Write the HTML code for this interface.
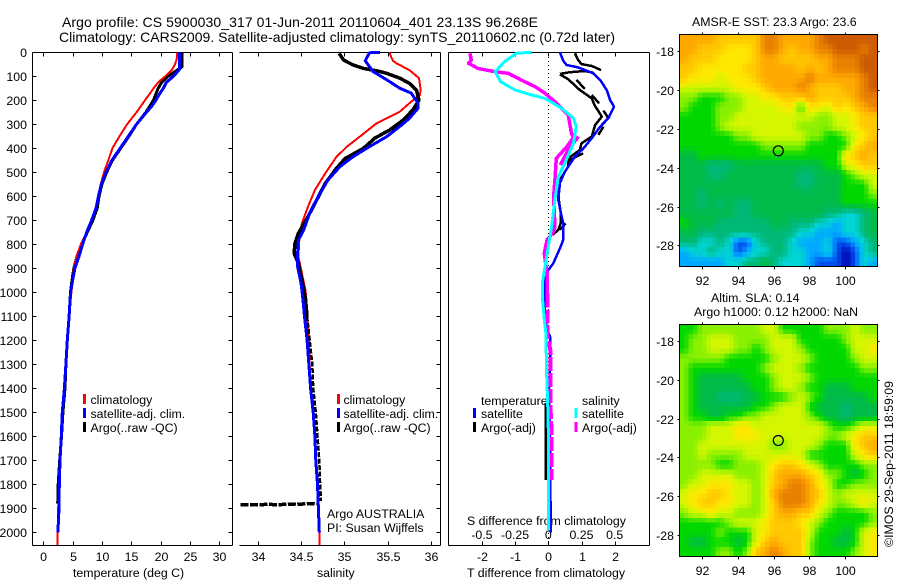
<!DOCTYPE html>
<html><head><meta charset="utf-8"><title>Argo profile</title>
<style>
html,body{margin:0;padding:0;background:#fff}
svg{display:block}
text{font-family:"Liberation Sans",sans-serif;font-size:12.35px;fill:#000}
.c{shape-rendering:crispEdges}
</style></head><body>
<svg id="fig" width="900" height="580" viewBox="0 0 900 580" xmlns="http://www.w3.org/2000/svg">
<text x="62" y="27" style="font-size:14px" textLength="476">Argo profile: CS 5900030_317 01-Jun-2011 20110604_401 23.13S 96.268E</text>
<text x="59" y="42" style="font-size:14px" textLength="556">Climatology: CARS2009. Satellite-adjusted climatology: synTS_20110602.nc (0.72d later)</text>
<text x="73" y="577">temperature (deg C)</text>
<text x="317" y="577">salinity</text>
<text x="467" y="577">T difference from climatology</text>
<text x="467" y="525">S difference from climatology</text>
<text x="327" y="518">Argo AUSTRALIA</text>
<text x="327" y="532">PI: Susan Wijffels</text>
<text x="692" y="26">AMSR-E SST: 23.3 Argo: 23.6</text>
<text x="711" y="302">Altim. SLA: 0.14</text>
<text x="694" y="316">Argo h1000: 0.12 h2000: NaN</text>
<text transform="translate(893,547) rotate(-90)">©IMOS 29-Sep-2011 18:59:09</text>
<text x="481" y="405">temperature</text>
<text x="582" y="405">salinity</text>
</svg>
<script>
// ---- chart data ----
const depthTicks=[0,100,200,300,400,500,600,700,800,900,1000,1100,1200,1300,1400,1500,1600,1700,1800,1900,2000];
const tempTicks=[0,5,10,15,20,25,30];
const salTicks=[34,34.5,35,35.5,36];
const diffTTicks=[-2,-1,0,1,2];
const diffSTicks=[-0.5,-0.25,0,0.25,0.5];
const diffSLabels=['-0.5','-0.25','0','0.25','0.5'];
const lonTicks=[92,94,96,98,100];
const latTicks=[18,20,22,24,26,28];

const climTempDepth=[0,25,50,75,100,125,150,175,200,250,300,350,400,450,500,550,600,650,700,750,800,850,900,950,1000,1100,1200,1300,1400,1500,1600,1700,1800,1900,2000,2053];
const climTemp=[22.8,22.8,22.5,21.9,20.8,19.6,18.8,18.1,17.35,15.9,14.3,13,11.8,11.1,10.35,9.8,9.5,8.9,8.25,7.4,6.4,5.7,5.2,5,4.8,4.4,4.1,3.85,3.6,3.25,3.05,2.85,2.7,2.55,2.45,2.4];
const satTempDepth=[0,25,50,73,100,125,150,175,200,225,250,300,350,400,450,500,550,600,650,700,750,800,850,900,950,1000,1100,1200,1300,1400,1500,1600,1700,1800,1900,2000];
const satTemp=[23.2,23.2,23.2,23.2,22.2,21,20.5,19.8,19.2,18.5,17.6,15.9,14.5,13.1,11.7,10.7,9.9,9.4,9,8.25,7.4,6.7,6.1,5.4,5,4.66,4.4,4.1,3.85,3.6,3.25,3.07,2.85,2.73,2.68,2.5];
const argoTempDepth=[0,60,75,100,125,150,175,200,250,300,350,400,450,500,550,600,650,700,750,800,850,900,950,1000,1100,1200,1300,1400,1500,1600,1700,1800,1880];
const argoTemp=[23.7,23.7,22.8,21.3,20.2,19.6,19.2,18.8,17.5,15.9,14.6,13.2,11.8,10.8,10,9.5,9.2,8.45,7.5,6.5,5.75,5.2,4.9,4.65,4.4,4.1,3.85,3.7,3.35,3.1,2.8,2.55,2.45];

const climSalDepth=[0,20,35,46,74,108,157,178,212,247,296,351,393,435,504,574,643,713,782,851,921,990,1025,1100,1200,1300,1400,1500,1600,1700,1800,1900,2000,2053];
const climSal=[35.52,35.54,35.56,35.6,35.75,35.86,35.88,35.87,35.75,35.64,35.37,35.18,35.03,34.91,34.78,34.66,34.58,34.51,34.48,34.47,34.51,34.55,34.56,34.57,34.59,34.6,34.61,34.64,34.66,34.67,34.69,34.7,34.71,34.715];
const satSalDepth=[0,2,35,80,115,150,170,212,233,275,303,351,393,435,476,532,600,670,740,782,838,893,963,1025,1100,1200,1300,1400,1500,1600,1700,1800,1900,2000];
const satSal=[35.41,35.29,35.24,35.33,35.49,35.64,35.77,35.85,35.85,35.75,35.66,35.49,35.29,35.1,34.95,34.81,34.7,34.6,34.53,34.47,34.46,34.46,34.5,34.52,34.54,34.57,34.59,34.61,34.64,34.66,34.67,34.69,34.7,34.71];
const argoSalDepth=[4,32,53,67,80,88,108,129,157,199,240,282,324,358,400,442,483,546,615,685,754,796,838,879,949,1025,1100];
const argoSal=[34.94,34.99,35.1,35.22,35.41,35.49,35.64,35.75,35.83,35.86,35.79,35.68,35.52,35.35,35.22,35.01,34.91,34.78,34.68,34.58,34.47,34.43,34.42,34.47,34.51,34.55,34.57];
const argoSalDeepDepth=[1100,1200,1300,1400,1500,1600,1700,1800,1870];
const argoSalDeep=[34.57,34.6,34.63,34.64,34.67,34.69,34.71,34.72,34.73];
const argoSalBadDepth=[1884,1886,1884,1885,1883,1885,1884,1882,1884,1882,1880,1881];
const argoSalBad=[33.8,33.88,33.96,34.04,34.12,34.2,34.28,34.36,34.44,34.52,34.6,34.68];

const satDiffTDepth=[0,35,53,63,88,115,157,199,226,275,310,358,400,435,497,545,615,664,713,782,817,879,907,950,1050,1150,1185,1300,1400,1500,1600,1700,1800,1900,2000];
const satDiffT=[0.35,0.45,0.55,0.9,1.36,1.56,1.76,1.86,1.98,1.81,1.56,1.31,1.06,0.8,0.5,0.35,0.3,0.37,0.45,0.45,0.35,0.15,0,-0.1,-0.12,-0.05,0.05,0.05,0.02,0.03,0.05,0.05,0.06,0.07,0.07];
const argoDiffTDepth=[4,32,49,57,74,null,90,83,78,85,null,92,112,157,192,219,268,303,351,379,407,442,476,532,601,664,713,740,761,null,817,893,null,115,153,null,178,213,null,243,275,null,310,344,null,421,442,456,null,713,740,null,950,1100,null,1461,1782];
const argoDiffT=[0.8,0.9,1,1.31,1.59,null,0.35,0.65,1.1,1.36,null,0.35,0.6,0.95,1.31,1.39,1.61,1.41,1.31,1,0.95,0.6,0.6,0.35,0.3,0.37,0.37,0.3,0.12,null,-0.05,-0.07,null,0.85,1.1,null,1.31,1.53,null,1.66,1.81,null,1.66,1.51,null,1.05,0.75,0.55,null,0.52,0.35,null,-0.13,-0.13,null,-0.08,-0.08];
const satDiffSDepth=[0,4,39,81,122,157,178,192,233,275,310,379,462,518,615,726,810,893,963,1032,1116,1171,1338,1449,1643,1991];
const satDiffS=[-0.125,-0.24,-0.33,-0.4,-0.36,-0.25,-0.125,-0.025,0.1,0.19,0.21,0.19,0.125,0.075,0.05,0.025,0,-0.025,-0.045,-0.043,-0.03,-0.018,-0.013,-0.005,0.003,0.003];
const argoDiffSDepth=[4,32,46,67,76,81,88,122,143,171,206,261,338,354,393,442,532,601,726,747,782,838,921,1004,null,351,407,469];
const argoDiffS=[-0.59,-0.58,-0.6,-0.53,-0.45,-0.4,-0.3,-0.18,-0.1,-0.025,0.05,0.15,0.175,0.19,0.14,0.06,0.05,0.04,0.05,0.04,-0.01,-0.03,-0.01,-0.01,null,0.226,0.15,0.09];
const argoDiffSDeepDepth=[1004,1185,1240,1330,1470,1580,1782];
const argoDiffSDeep=[-0.005,-0.005,0.015,0.015,0.016,0.025,0.025];

// map cell values: 0 = coldest/lowest ... 13 = warmest/highest colour level
const sstValues=[
[11,11,11,11,10,10,10,10,10,12,12,11,11,11,11,12,13,13,13,13,13,13],
[11,11,10,10,10,9,9,9,10,12,12,11,10,11,11,12,12,13,13,13,12,13],
[11,10,10,10,9,9,9,9,10,11,11,10,10,10,10,11,11,12,12,12,13,13],
[10,10,9,9,9,9,9,10,10,11,11,11,11,10,11,10,11,12,12,12,13,13],
[10,9,9,9,8,9,9,9,10,11,11,11,11,11,12,11,11,11,11,11,12,13],
[8,8,8,8,8,8,9,9,9,10,11,11,11,12,11,10,10,10,11,11,12,13],
[7,7,6,6,6,7,7,8,8,9,9,10,10,10,11,10,10,10,10,11,12,12],
[7,6,6,6,7,7,7,8,8,8,8,9,9,6,9,9,8,10,9,10,11,12],
[6,6,6,6,7,7,8,8,8,8,8,8,8,8,8,7,7,8,8,9,10,10],
[6,6,6,6,7,8,8,8,8,8,8,8,8,7,7,7,7,8,8,9,10,10],
[6,6,6,6,6,6,7,7,8,8,8,8,8,8,7,7,6,6,7,8,9,10],
[6,6,6,6,6,6,6,6,6,7,7,7,7,7,6,6,6,6,6,9,10,11],
[5,5,6,6,6,6,6,6,6,6,6,6,6,6,6,6,6,6,9,10,11,10],
[5,5,5,4,4,4,5,5,5,5,5,5,5,5,5,5,6,6,8,9,10,10],
[5,5,5,4,4,5,5,5,5,5,5,5,5,4,4,5,5,5,6,7,8,8],
[5,5,5,5,5,5,5,5,5,5,5,5,5,4,4,5,5,5,6,6,6,8],
[5,5,4,5,5,5,5,5,5,5,5,5,5,5,5,5,5,5,6,6,6,7],
[5,5,4,5,4,5,4,4,5,5,5,5,5,5,5,5,5,5,6,6,6,6],
[5,5,5,5,5,5,4,4,5,5,5,5,5,5,5,5,4,4,3,3,4,5],
[6,5,5,5,4,4,4,4,4,4,5,5,4,4,4,3,3,2,3,3,4,5],
[5,5,4,4,4,4,4,4,4,4,4,4,4,3,3,2,2,2,3,3,4,5],
[4,4,3,3,4,3,1,1,3,4,4,4,3,2,2,2,3,1,1,2,3,4],
[2,3,3,4,3,3,1,2,3,3,4,4,3,3,2,2,3,1,0,1,3,4],
[2,2,2,2,2,3,3,4,4,5,4,3,3,3,2,1,1,1,0,1,3,2]];
const slaValues=[
[6,6,7,7,7,7,7,7,7,8,8,6,6,6,6,6,7,7,7,8,7,7],
[6,7,7,8,8,8,7,7,7,7,8,8,8,6,6,6,6,6,7,8,8,8],
[6,7,7,8,8,8,7,7,6,7,8,8,8,7,6,6,6,6,6,8,8,9],
[7,7,7,7,7,6,6,6,6,6,7,8,8,8,7,6,6,6,6,7,8,8],
[7,6,6,6,6,6,6,6,6,7,8,8,8,7,6,6,6,6,6,6,7,7],
[7,6,5,5,5,5,5,6,6,6,7,8,8,8,7,6,6,6,6,6,6,6],
[7,6,5,5,5,5,5,5,6,6,7,8,8,7,6,6,5,5,5,6,6,6],
[7,6,5,5,4,4,4,5,5,6,6,6,7,8,7,6,5,5,5,5,5,6],
[7,6,5,5,5,5,5,5,6,6,7,8,8,8,6,5,5,5,4,5,5,5],
[7,6,6,5,5,6,6,7,7,8,8,8,8,8,7,6,5,5,4,5,5,5],
[7,7,7,8,8,8,9,9,8,8,8,8,8,8,8,8,7,6,6,7,8,8],
[7,7,7,8,8,8,9,9,9,8,8,8,8,8,8,8,7,7,8,9,10,10],
[7,7,8,8,8,8,8,8,8,8,7,7,8,8,8,7,6,6,6,9,10,11],
[7,7,8,7,7,7,7,8,8,8,8,8,8,8,6,6,6,6,6,8,9,10],
[7,7,7,7,6,6,7,7,7,8,9,10,10,9,8,7,6,6,6,6,7,7],
[7,7,8,8,8,8,7,7,7,8,10,11,11,11,10,9,7,7,6,5,6,7],
[7,8,8,9,9,9,8,8,7,8,10,11,12,12,11,9,8,6,6,7,7,7],
[8,9,9,10,10,9,8,8,7,8,11,12,12,12,11,10,8,7,8,8,8,8],
[8,9,10,10,9,9,8,8,7,8,10,12,12,12,11,9,8,7,7,8,9,8],
[7,8,8,9,8,8,7,7,7,8,10,11,11,10,10,8,7,6,6,6,6,7],
[6,6,6,6,6,7,8,8,8,9,10,10,10,9,8,7,6,6,6,6,6,7],
[6,6,6,6,7,6,6,6,8,9,10,10,10,10,8,6,6,6,5,6,8,9],
[6,5,5,6,6,6,5,6,8,10,11,10,10,10,7,6,6,5,5,6,8,9],
[6,6,6,6,7,7,6,7,10,11,12,11,10,10,7,6,6,6,6,7,8,9]];
const mapColors=[[0,0,176],[0,80,240],[0,168,255],[0,212,212],[0,184,120],[0,187,72],[0,216,0],[136,240,0],[212,246,0],[255,232,0],[255,200,0],[255,168,0],[232,128,0],[204,90,0]];

// ---- helpers ----
const svg=document.getElementById('fig');
const NS='http://www.w3.org/2000/svg';
function el(tag,a){const e=document.createElementNS(NS,tag);for(const k in a)e.setAttribute(k,a[k]);svg.appendChild(e);return e;}
const yD=d=>52.3+0.24*d;
const xT=t=>43.3+5.86*t;
const xS=s=>257.7+86.7*(s-34);
const xDT=t=>548.3+33.2*t;
const xDS=s=>548.3+132.8*s;
function seg(x1,y1,x2,y2,name,c){
  const e=el('line',{x1:x1,y1:y1,x2:x2,y2:y2,stroke:c||'#000','stroke-width':1,class:'c'});
  
  
}
function label(x,y,s,anchor,name){
  const e=el('text',{x:x,y:y,'text-anchor':anchor||'start'});
  e.textContent=s;
  
  
}
function curve(xs,ds,fx,color,w,name,dash){
  let p='',pen=false;
  ds.forEach((d,i)=>{
    if(d===null||xs[i]===null){pen=false;return;}
    p+=(pen?'L':'M')+fx(xs[i]).toFixed(1)+' '+yD(d).toFixed(1);
    pen=true;
  });
  const a={d:p,fill:'none',stroke:color,'stroke-width':w,'stroke-linejoin':'round',class:'c'};
  if(dash)a['stroke-dasharray']=dash;
  const e=el('path',a);
  
  
}
function legendBar(x,y,color,name){
  const e=el('rect',{x:x,y:y,width:3,height:10,fill:color,class:'c'});
  
  
}

// ---- panel 1 : temperature ----
seg(32.5,52.5,32.5,545.5,'temperature-left-spine');
seg(232.5,52.5,232.5,545.5,'temperature-right-spine');
seg(32.5,52.5,232.5,52.5,'temperature-top-spine');
seg(32.5,545.5,232.5,545.5,'temperature-bottom-spine');
depthTicks.forEach(d=>{
  const y=Math.round(yD(d))+.5;
  seg(32.5,y,36.5,y,'temperature-depth-tick');
  seg(228.5,y,232.5,y,'temperature-depth-tick-right');
  label(27,y+4.5,String(d),'end','depth-tick-label');
  seg(436.5,y,440.5,y,'salinity-depth-tick-right');
});
tempTicks.forEach(t=>{
  const x=Math.round(xT(t))+.5;
  seg(x,52.5,x,56.5,'temperature-top-tick');
  seg(x,541.5,x,545.5,'temperature-bottom-tick');
  label(x,561,String(t),'middle','temperature-tick-label');
});
curve(argoTemp,argoTempDepth,xT,'#000',3,'temperature-argo-line');
curve(climTemp,climTempDepth,xT,'#f00',2,'temperature-climatology-line');
curve(satTemp,satTempDepth,xT,'#00f',3,'temperature-satellite-line');
legendBar(83,394,'#f00','legend-swatch-climatology');
legendBar(83,408,'#00f','legend-swatch-satellite');
legendBar(83,422,'#000','legend-swatch-argo');
label(90.5,404,'climatology','start','legend-label-climatology');
label(90.5,418,'satellite-adj. clim.','start','legend-label-satellite');
label(90.5,432,'Argo(..raw -QC)','start','legend-label-argo');

// ---- panel 2 : salinity ----
seg(239.5,52.5,440.5,52.5,'salinity-top-spine');
seg(239.5,545.5,440.5,545.5,'salinity-bottom-spine');
seg(440.5,52.5,440.5,545.5,'salinity-right-spine');
salTicks.forEach(s=>{
  const x=Math.round(xS(s))+.5;
  seg(x,52.5,x,56.5,'salinity-top-tick');
  seg(x,541.5,x,545.5,'salinity-bottom-tick');
  label(x,561,String(s),'middle','salinity-tick-label');
});
curve(climSal,climSalDepth,xS,'#f00',2,'salinity-climatology-line');
curve(argoSal,argoSalDepth,xS,'#000',3.5,'salinity-argo-line');
curve(argoSalDeep,argoSalDeepDepth,xS,'#000',2.5,'salinity-argo-deep-line','5 1.5');
curve(argoSalBad,argoSalBadDepth,xS,'#000',3.5,'salinity-argo-bad-samples','8 1.5');
curve(satSal,satSalDepth,xS,'#00f',3,'salinity-satellite-line');
legendBar(337,394,'#f00','legend-swatch-climatology');
legendBar(337,408,'#00f','legend-swatch-satellite');
legendBar(337,422,'#000','legend-swatch-argo');
label(343.5,404,'climatology','start','legend-label-climatology');
label(343.5,418,'satellite-adj. clim.','start','legend-label-satellite');
label(343.5,432,'Argo(..raw -QC)','start','legend-label-argo');

// ---- panel 3 : differences ----
seg(448.5,52.5,448.5,545.5,'difference-left-spine');
seg(649.5,52.5,649.5,545.5,'difference-right-spine');
seg(448.5,52.5,649.5,52.5,'difference-top-spine');
seg(448.5,545.5,649.5,545.5,'difference-bottom-spine');
const zero=el('line',{x1:548.5,y1:53,x2:548.5,y2:545,stroke:'#000','stroke-width':1,'stroke-dasharray':'1 3',class:'c'});


diffTTicks.forEach(t=>{
  const x=Math.round(xDT(t))+.5;
  seg(x,52.5,x,56.5,'difference-top-tick');
  seg(x,541.5,x,545.5,'difference-bottom-tick');
  label(x,561,String(t),'middle','t-difference-tick-label');
});
diffSTicks.forEach((s,i)=>{
  label(xDS(s),539,diffSLabels[i],'middle','s-difference-tick-label');
});
curve(argoDiffT,argoDiffTDepth,xDT,'#000',2.5,'t-difference-argo-line');
curve(satDiffT,satDiffTDepth,xDT,'#00f',2.5,'t-difference-satellite-line');
curve(argoDiffS,argoDiffSDepth,xDS,'#f0f',3.5,'s-difference-argo-line');
curve(argoDiffSDeep,argoDiffSDeepDepth,xDS,'#f0f',4,'s-difference-argo-deep-line','14 2');
curve(satDiffS,satDiffSDepth,xDS,'#0ff',3,'s-difference-satellite-line');
legendBar(473,408,'#00f','legend-swatch-t-satellite');
legendBar(473,422,'#000','legend-swatch-t-argo');
legendBar(574.5,408,'#0ff','legend-swatch-s-satellite');
legendBar(574.5,422,'#f0f','legend-swatch-s-argo');
label(481,418,'satellite','start','legend-label-t-satellite');
label(481,432,'Argo(-adj)','start','legend-label-t-argo');
label(582,418,'satellite','start','legend-label-s-satellite');
label(582,432,'Argo(-adj)','start','legend-label-s-argo');

// ---- maps ----
function colorFor(v){
  const n=Math.min(mapColors.length-2,Math.floor(v)),t=v-n;
  const a=mapColors[n],b=mapColors[n+1];
  return 'rgb('+[0,1,2].map(k=>Math.round(a[k]+(b[k]-a[k])*t)).join(',')+')';
}
function sample(values,r,c){
  const R=values.length,C=values[0].length;
  const y=Math.max(0,Math.min(R-1,r)),x=Math.max(0,Math.min(C-1,c));
  const r0=Math.floor(y),c0=Math.floor(x),r1=Math.min(R-1,r0+1),c1=Math.min(C-1,c0+1),u=x-c0,w=y-r0;
  return (values[r0][c0]*(1-u)+values[r0][c1]*u)*(1-w)+(values[r1][c0]*(1-u)+values[r1][c1]*u)*w;
}
function drawMap(values,top,lat18,latStep,prefix){
  const L=679.5,W=198,H=232,sub=2;
  const rows=values.length*sub,cols=values[0].length*sub;
  const cw=W/cols,ch=H/rows;
  for(let r=0;r<rows;r++)for(let c=0;c<cols;c++){
    const v=sample(values,(r+.5)/sub-.5,(c+.5)/sub-.5);
    const e=el('rect',{x:(L+c*cw).toFixed(2),y:(top+r*ch).toFixed(2),width:(cw+.6).toFixed(2),height:(ch+.6).toFixed(2),fill:colorFor(v),class:'c'});
    
    
  }
  const f=el('rect',{x:L,y:top,width:W,height:H,fill:'none',stroke:'#000','stroke-width':1,class:'c'});
  
  
  lonTicks.forEach(lon=>{
    const x=Math.round(702.3+(lon-92)*17.8)+.5;
    seg(x,top-2,x,top,prefix+'-lon-tick-top');
    seg(x,top+H,x,top+H+3,prefix+'-lon-tick');
    label(x,top+H+18.5,String(lon),'middle',prefix+'-lon-label');
  });
  latTicks.forEach(lat=>{
    const y=Math.round(lat18+(lat-18)*latStep)+.5;
    seg(L-2,y,L,y,prefix+'-lat-tick');
    seg(L+W,y,L+W+2,y,prefix+'-lat-tick-right');
    label(674,y+4.5,'-'+lat,'end',prefix+'-lat-label');
  });
  const ring=el('circle',{cx:778.3,cy:(lat18+5.13*latStep).toFixed(1),r:5,fill:'none',stroke:'#000','stroke-width':1.2});
  
  
}
drawMap(sstValues,34.5,51.3,19.4,'sst');
drawMap(slaValues,324.5,340.7,19.46,'sla');
</script>
</body></html>
